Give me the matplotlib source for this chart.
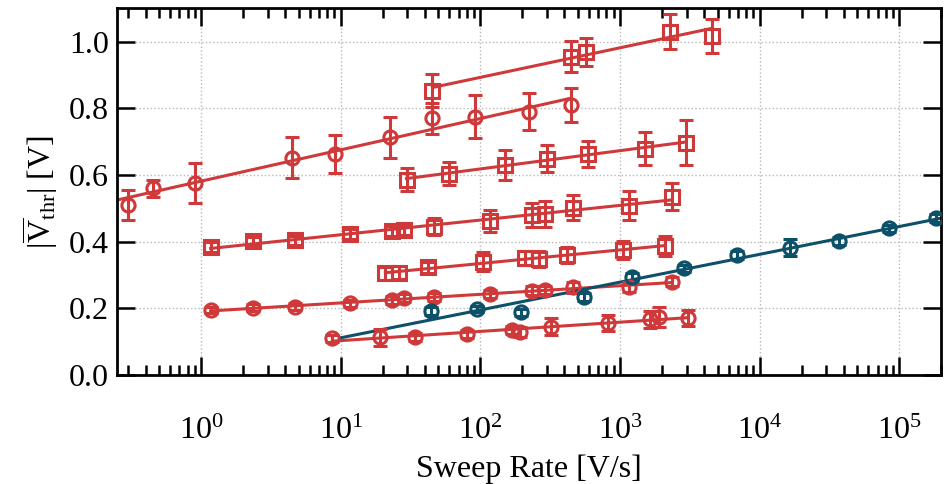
import numpy as np
import matplotlib
matplotlib.use('Agg')
import matplotlib.pyplot as plt
from matplotlib.ticker import LogLocator, NullFormatter, MultipleLocator

# ---------------- data ----------------
red = '#d0393a'
teal = '#0c5069'

# Series A (circles, top-left)
xA = [0.298, 0.45, 0.91, 4.45, 9.03, 22.7, 45.4, 92.2, 224, 449]
yA = [0.51, 0.56, 0.575, 0.652, 0.662, 0.713, 0.77, 0.775, 0.79, 0.81]
eA = [0.045, 0.025, 0.06, 0.062, 0.057, 0.062, 0.047, 0.065, 0.055, 0.051]
rA = [0.25, 449]

# Series B (squares, top)
xB = [45.4, 449, 575, 2290, 4590]
yB = [0.853, 0.955, 0.97, 1.03, 1.018]
eB = [0.05, 0.046, 0.042, 0.052, 0.051]
rB = [45.4, 4590]

# Series C (squares, ~0.6)
xC = [29.6, 60, 151, 302, 594, 1520, 2990]
yC = [0.586, 0.604, 0.631, 0.649, 0.664, 0.679, 0.697]
eC = [0.034, 0.034, 0.045, 0.04, 0.039, 0.05, 0.067]
rC = [29.6, 2990]

# Series D (squares, ~0.4)
xD = [1.17, 2.35, 4.67, 11.7, 23.4, 28.6, 46.9, 117.5, 235, 291, 464, 1168, 2360]
yD = [0.385, 0.402, 0.404, 0.423, 0.432, 0.435, 0.445, 0.463, 0.48, 0.483, 0.502, 0.508, 0.535]
eD = [0.015, 0.012, 0.013, 0.015, 0.015, 0.015, 0.025, 0.033, 0.035, 0.038, 0.038, 0.044, 0.04]
rD = [1.17, 2360]

# Series E (squares, ~0.3-0.39)
xE = [20.9, 26, 42, 105, 210, 262, 418, 1045, 2100]
yE = [0.305, 0.307, 0.323, 0.34, 0.35, 0.348, 0.36, 0.375, 0.388]
eE = [0.02, 0.02, 0.017, 0.028, 0.021, 0.025, 0.024, 0.027, 0.03]
rE = [20.9, 2100]

# Series F (circles, ~0.2-0.28)
xF = [1.17, 2.35, 4.67, 11.7, 23.4, 28.6, 46.9, 117.5, 235, 291, 464, 1168, 2360]
yF = [0.195, 0.202, 0.205, 0.215, 0.225, 0.23, 0.233, 0.242, 0.253, 0.255, 0.263, 0.265, 0.28]
eF = [0.01, 0.01, 0.01, 0.01, 0.012, 0.012, 0.012, 0.012, 0.013, 0.013, 0.016, 0.015, 0.013]
rF = [1.17, 2360]

# Series G (circles, ~0.1-0.17)
xG = [8.7, 19.2, 33.8, 80.5, 168, 193, 321, 826, 1640, 1915, 3050]
yG = [0.11, 0.113, 0.115, 0.123, 0.135, 0.13, 0.145, 0.157, 0.167, 0.175, 0.17]
eG = [0.01, 0.025, 0.012, 0.012, 0.012, 0.015, 0.025, 0.024, 0.025, 0.03, 0.024]
rG = [8.7, 3050]

# Series H (teal circles)
xH = [44.5, 94, 196, 550, 1213, 2890, 6840, 16500, 36800, 84700, 185000]
yH = [0.193, 0.198, 0.188, 0.233, 0.295, 0.32, 0.36, 0.382, 0.403, 0.44, 0.471]
eH = [0.012, 0.01, 0.01, 0.012, 0.012, 0.01, 0.012, 0.025, 0.012, 0.01, 0.012]
rH = [10, 200000]

series = [
    (xA, yA, eA, rA, 'o', red),
    (xB, yB, eB, rB, 's', red),
    (xC, yC, eC, rC, 's', red),
    (xD, yD, eD, rD, 's', red),
    (xE, yE, eE, rE, 's', red),
    (xF, yF, eF, rF, 'o', red),
    (xG, yG, eG, rG, 'o', red),
    (xH, yH, eH, rH, 'o', teal),
]

# ---------------- style ----------------
plt.rcParams['font.family'] = ['Liberation Serif', 'DejaVu Serif']
plt.rcParams['mathtext.fontset'] = 'custom'
plt.rcParams['mathtext.rm'] = 'Liberation Serif'
plt.rcParams['mathtext.it'] = 'Liberation Serif:italic'
plt.rcParams['mathtext.bf'] = 'Liberation Serif:bold'

fig = plt.figure(figsize=(9.44, 4.84), dpi=100)
ax = fig.add_axes([0.124, 0.225, 0.873, 0.758])

for x, y, e, r, m, c in series:
    x = np.asarray(x, float)
    y = np.asarray(y, float)
    a, b = np.polyfit(np.log10(x), y, 1)
    xr = np.logspace(np.log10(r[0]), np.log10(r[1]), 50)
    ax.plot(xr, a * np.log10(xr) + b, color=c, lw=2.2, zorder=2)
    ax.errorbar(x, y, yerr=e, fmt=m, mfc='none', mec=c, ecolor=c, ms=9.5,
                mew=2.2, elinewidth=2.2, capsize=5, capthick=2.2, ls='none', zorder=3)

ax.set_xscale('log')
ax.set_xlim(0.25, 2e5)
ax.set_ylim(0, 1.1)
ax.set_yticks([0.0, 0.2, 0.4, 0.6, 0.8, 1.0])
ax.set_yticklabels(['0.0', '0.2', '0.4', '0.6', '0.8', '1.0'])
ax.xaxis.set_major_locator(LogLocator(base=10, numticks=20))
ax.xaxis.set_minor_locator(LogLocator(base=10, subs=np.arange(2, 10), numticks=20))
ax.xaxis.set_minor_formatter(NullFormatter())

ax.grid(True, which='major', ls=':', color='#b8b8b8', lw=1)
ax.set_axisbelow(True)

ax.tick_params(which='both', direction='in', top=True, right=True, labelsize=23, width=1.8)
ax.tick_params(which='major', length=13)
ax.tick_params(which='minor', length=7)
ax.tick_params(axis='x', which='major', pad=30)
ax.tick_params(axis='y', which='major', pad=6)
for s in ax.spines.values():
    s.set_linewidth(2)

ax.set_xlabel('Sweep Rate [V/s]', fontsize=23, labelpad=6)
ax.set_ylabel(r'$|\overline{\mathrm{V}}_{\mathrm{thr}}|$ [V]', fontsize=23, labelpad=6)

fig.savefig('out.png', dpi=100)
